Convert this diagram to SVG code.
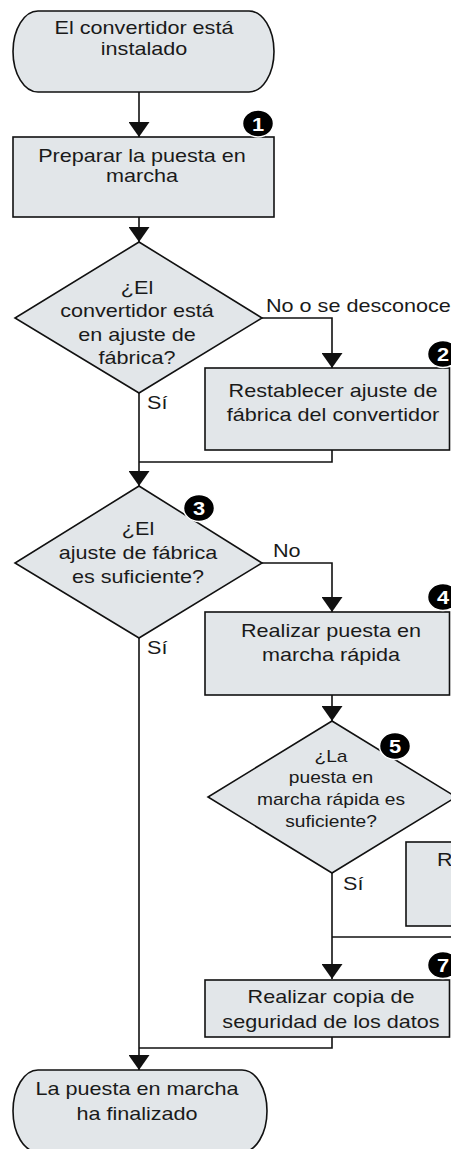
<svg xmlns="http://www.w3.org/2000/svg" width="451" height="1149" viewBox="0 0 451 1149">
<defs>
<marker id="arr" viewBox="0 0 15 21" refX="15" refY="10.5" markerWidth="15" markerHeight="21" markerUnits="userSpaceOnUse" orient="auto">
<path d="M0,0 L15,10.5 L0,21 Z" fill="#111"/>
</marker>
<style>
.shape{fill:#e2e6e9;stroke:#111;stroke-width:1.6}
.t{font-family:"Liberation Sans",Arial,Helvetica,sans-serif;font-size:18px;fill:#1a1a1a}
.s{font-size:16px}
.c{stroke:#111;stroke-width:1.6;fill:none}
.b{fill:#000;stroke:#fff;stroke-width:1.5}
.bt{font-family:"Liberation Sans",Arial,Helvetica,sans-serif;font-size:19px;font-weight:bold;fill:#fff}
</style>
</defs>
<rect width="451" height="1149" fill="#fff"/>

<g id="connectors">
<path class="c" d="M139,92 V137" marker-end="url(#arr)"/>
<path class="c" d="M139,217 V242" marker-end="url(#arr)"/>
<path class="c" d="M262,318 H332 V368" marker-end="url(#arr)"/>
<path class="c" d="M139,393 V486" marker-end="url(#arr)"/>
<path class="c" d="M332,450 V462 H139"/>
<path class="c" d="M262,563 H332 V612" marker-end="url(#arr)"/>
<path class="c" d="M139,638 V1070" marker-end="url(#arr)"/>
<path class="c" d="M332,695 V721" marker-end="url(#arr)"/>
<path class="c" d="M332,873 V979" marker-end="url(#arr)"/>
<path class="c" d="M452,937 H332"/>
<path class="c" d="M332,1037 V1048 H139"/>
<text class="t" transform="translate(266,312) scale(1.2,1)">No o se desconoce</text>
<text class="t" transform="translate(147,409) scale(1.2,1)">Sí</text>
<text class="t" transform="translate(273,557) scale(1.2,1)">No</text>
<text class="t" transform="translate(147,654) scale(1.2,1)">Sí</text>
<text class="t" transform="translate(343,890) scale(1.2,1)">Sí</text>
</g>

<g id="start">
<path class="shape" d="M38,11 H249 A25,40.5 0 0 1 249,92 H38 A25,40.5 0 0 1 38,11 Z"/>
<text class="t" text-anchor="middle" transform="translate(144,0) scale(1.2,1)"><tspan x="0" y="34">El convertidor está</tspan><tspan x="0" y="55">instalado</tspan></text>
</g>

<g id="step1">
<rect class="shape" x="13" y="137" width="261" height="80"/>
<text class="t" text-anchor="middle" transform="translate(142,0) scale(1.2,1)"><tspan x="0" y="162">Preparar la puesta en</tspan><tspan x="0" y="182">marcha</tspan></text>
<ellipse class="b" cx="258" cy="123.5" rx="15.5" ry="13.5"/>
<text class="bt" text-anchor="middle" transform="translate(258,130.5) scale(1.15,1)">1</text>
</g>

<g id="decision1">
<polygon class="shape" points="139,242 262,318 139,393 15,318"/>
<text class="t" text-anchor="middle" transform="translate(137,0) scale(1.2,1)"><tspan x="0" y="294">¿El</tspan><tspan x="0" y="317">convertidor está</tspan><tspan x="0" y="341">en ajuste de</tspan><tspan x="0" y="364">fábrica?</tspan></text>
</g>

<g id="step2">
<rect class="shape" x="205" y="368" width="244.5" height="82"/>
<text class="t" text-anchor="middle" transform="translate(333,0) scale(1.2,1)"><tspan x="0" y="397">Restablecer ajuste de</tspan><tspan x="0" y="421">fábrica del convertidor</tspan></text>
<ellipse class="b" cx="443" cy="354" rx="15.5" ry="13.5"/>
<text class="bt" text-anchor="middle" transform="translate(443,361) scale(1.15,1)">2</text>
</g>

<g id="decision2">
<polygon class="shape" points="139,486 262,563 139,638 15,563"/>
<text class="t" text-anchor="middle" transform="translate(138,0) scale(1.2,1)"><tspan x="0" y="535">¿El</tspan><tspan x="0" y="559">ajuste de fábrica</tspan><tspan x="0" y="583">es suficiente?</tspan></text>
<ellipse class="b" cx="199" cy="508" rx="15.5" ry="13.5"/>
<text class="bt" text-anchor="middle" transform="translate(199,515) scale(1.15,1)">3</text>
</g>

<g id="step4">
<rect class="shape" x="205" y="612" width="244.5" height="83"/>
<text class="t" text-anchor="middle" transform="translate(331,0) scale(1.2,1)"><tspan x="0" y="637">Realizar puesta en</tspan><tspan x="0" y="661">marcha rápida</tspan></text>
<ellipse class="b" cx="443" cy="597" rx="15.5" ry="13.5"/>
<text class="bt" text-anchor="middle" transform="translate(443,604) scale(1.15,1)">4</text>
</g>

<g id="decision5">
<polygon class="shape" points="332,721 456,797 332,873 208,797"/>
<text class="t s" text-anchor="middle" transform="translate(331,0) scale(1.2,1)"><tspan x="0" y="762">¿La</tspan><tspan x="0" y="783">puesta en</tspan><tspan x="0" y="805">marcha rápida es</tspan><tspan x="0" y="827">suficiente?</tspan></text>
<ellipse class="b" cx="395" cy="746" rx="15.5" ry="13.5"/>
<text class="bt" text-anchor="middle" transform="translate(395,753) scale(1.15,1)">5</text>
</g>

<g id="step6">
<rect class="shape" x="406" y="842" width="60" height="84"/>
<text class="t" transform="translate(437,866) scale(1.2,1)">R</text>
</g>

<g id="step7">
<rect class="shape" x="205" y="980" width="244.5" height="57"/>
<text class="t" text-anchor="middle" transform="translate(331,0) scale(1.2,1)"><tspan x="0" y="1003">Realizar copia de</tspan><tspan x="0" y="1028">seguridad de los datos</tspan></text>
<ellipse class="b" cx="443" cy="965" rx="15.5" ry="13.5"/>
<text class="bt" text-anchor="middle" transform="translate(443,972) scale(1.15,1)">7</text>
</g>

<g id="end">
<path class="shape" d="M38,1070 H242 A25,41 0 0 1 242,1152 H38 A25,41 0 0 1 38,1070 Z"/>
<text class="t" text-anchor="middle" transform="translate(137,0) scale(1.2,1)"><tspan x="0" y="1095">La puesta en marcha</tspan><tspan x="0" y="1120">ha finalizado</tspan></text>
</g>
</svg>
